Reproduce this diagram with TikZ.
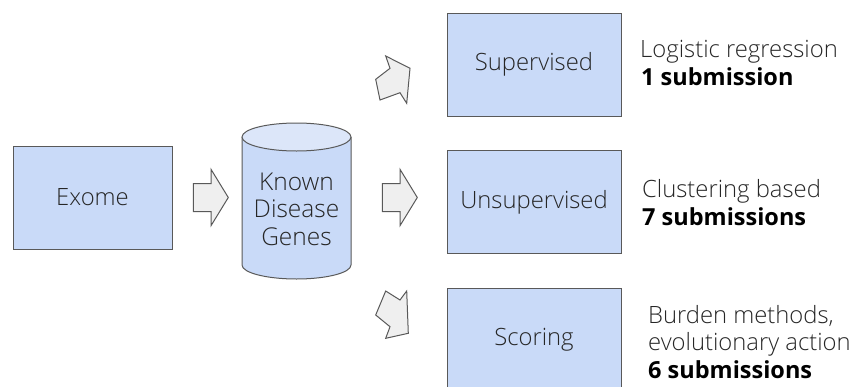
\documentclass[tikz,border=0pt]{standalone}
\usepackage{fontspec}
\setmainfont{Open Sans}[UprightFont={* Light}, BoldFont={* Bold}]
\usetikzlibrary{shapes.arrows}
\definecolor{boxfill}{HTML}{C9DAF8}
\definecolor{topfill}{HTML}{DCE6F9}
\definecolor{edge}{HTML}{595959}
\definecolor{arrowfill}{HTML}{EFEFEF}
\definecolor{ink}{HTML}{262626}
\tikzset{
  stagebox/.style={draw=edge, fill=boxfill, line width=1pt, minimum width=174pt,
    minimum height=103pt, inner sep=0pt, text=ink, font=\fontsize{23.8}{28}\selectfont},
  flowarrow/.style={single arrow, draw=edge, fill=arrowfill, line width=1pt,
    minimum height=35pt, inner xsep=0pt, inner ysep=13.5pt, single arrow head extend=14pt,
    single arrow tip angle=117},
  blockarrow/.style={draw=edge, fill=arrowfill, line width=1pt, line join=miter},
  note/.style={anchor=base west, inner sep=0pt, text=ink, font=\fontsize{23.8}{27}\selectfont},
  bnote/.style={note, font=\fontsize{23.5}{27}\selectfont\bfseries, text=black},
  dbline/.style={anchor=base, inner sep=0pt, text=ink, font=\fontsize{24.5}{28}\selectfont}
}
\begin{document}
\begin{tikzpicture}[x=1pt, y=-1pt]
\useasboundingbox (0,0) rectangle (854,386);
\begin{scope}
\clip (0,0) rectangle (854,386);

% input
\node[stagebox, minimum width=159pt] (exome) at (92.5,197.5) {Exome};

% database cylinder
\coordinate (dbtl) at (242,137);
\coordinate (dbtr) at (351,137);
\coordinate (dbbl) at (242,265);
\coordinate (dbbr) at (351,265);
\fill[boxfill] (dbtl) -- (dbbl) arc[start angle=180, end angle=360, x radius=54.5, y radius=-14] -- (dbtr) -- cycle;
\draw[edge, line width=1pt] (dbtl) -- (dbbl) arc[start angle=180, end angle=360, x radius=54.5, y radius=-14] -- (dbtr);
\draw[edge, line width=1pt, fill=topfill] (296.5,137) ellipse[x radius=54.5, y radius=14];
\node[dbline] (db1) at (296.5,190) {Known};
\node[dbline] (db2) at (296.5,217) {Disease};
\node[dbline] (db3) at (296.5,245) {Genes};

% method boxes
\node[stagebox] (sup) at (534,64.5) {Supervised};
\node[stagebox] (uns) at (534,202) {Unsupervised};
\node[stagebox] (sco) at (534,340) {Scoring};

% straight block arrows
\node[flowarrow] (a1) at (206.5,197.5) {};
\node[flowarrow] (a2) at (395.5,197.5) {};

% slanted block arrows towards the upper and lower branches
\draw[blockarrow] (375.7,79.3) -- (390,68.3) -- (385.7,56) -- (410,68.3)
  -- (406.7,103.3) -- (400,92.7) -- (380,100) -- cycle;
\draw[blockarrow] (375.7,315) -- (385.7,291) -- (400,300) -- (406.7,291)
  -- (408.3,333.3) -- (385.7,338.3) -- (390,326.7) -- cycle;

% method notes
\node[note] (n1) at (640,57) {Logistic regression};
\node[bnote] (n1b) at (641,85) {1 submission};
\node[note] (n2) at (642,197) {Clustering based};
\node[bnote] (n2b) at (642,225) {7 submissions};
\node[note] (n3) at (648,323) {Burden methods,};
\node[note] (n3a) at (648,350) {evolutionary action};
\node[bnote] (n3b) at (648,378) {6 submissions};
\end{scope}
\end{tikzpicture}
\end{document}
